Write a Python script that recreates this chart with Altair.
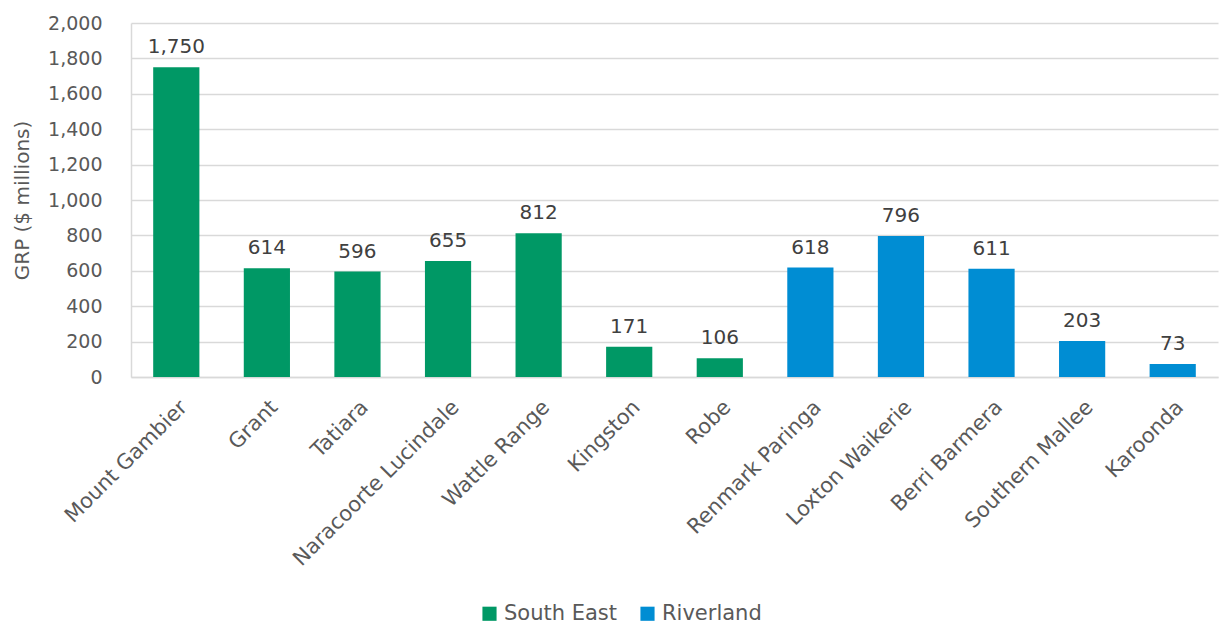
import altair as alt
import pandas as pd

regions = ["Mount Gambier", "Grant", "Tatiara", "Naracoorte Lucindale", "Wattle Range",
           "Kingston", "Robe", "Renmark Paringa", "Loxton Waikerie", "Berri Barmera",
           "Southern Mallee", "Karoonda"]
grp = [1750, 614, 596, 655, 812, 171, 106, 618, 796, 611, 203, 73]
groups = ["South East"] * 7 + ["Riverland"] * 5

df = pd.DataFrame({"region": regions, "grp": grp, "group": groups})

FONT = "DejaVu Sans"
base = alt.Chart(df).encode(
    x=alt.X("region:N", sort=regions, title=None,
            scale=alt.Scale(paddingInner=0.49, paddingOuter=0.245),
            axis=alt.Axis(labelAngle=-45, labelFontSize=21, labelColor="#595959",
                          labelFont=FONT, ticks=False, domainColor="#d9d9d9",
                          domainWidth=1.5, labelPadding=19, grid=False, labelLimit=300,
                          labelOverlap=False)),
    y=alt.Y("grp:Q", title="GRP ($ millions)",
            scale=alt.Scale(domain=[0, 2000], nice=False),
            axis=alt.Axis(values=list(range(0, 2001, 200)), format=",d",
                          labelFontSize=19, labelColor="#595959", labelFont=FONT,
                          titleFontSize=20, titleColor="#595959", titleFont=FONT,
                          titleFontWeight="normal", ticks=False, labelPadding=29,
                          titlePadding=15, domain=True, domainColor="#d9d9d9",
                          domainWidth=1.5, gridColor="#d9d9d9", gridWidth=1.5,
                          labelOverlap=False, tickCount=11)),
)

bars = base.mark_bar().encode(
    color=alt.Color("group:N", scale=alt.Scale(domain=["South East", "Riverland"],
                                               range=["#009865", "#008DD3"]),
                    legend=alt.Legend(title=None, orient="none", legendX=348, legendY=580,
                                      direction="horizontal", symbolType="square",
                                      symbolSize=200, symbolStrokeWidth=0,
                                      labelFontSize=21, labelColor="#595959",
                                      labelFont=FONT, columnPadding=19, labelOffset=4)),
)

labels = base.mark_text(baseline="bottom", dy=-10, fontSize=20, color="#404040",
                        font=FONT).encode(
    text=alt.Text("grp:Q", format=",d"),
)

chart = (bars + labels).properties(
    width=1087, height=354,
    autosize=alt.AutoSizeParams(type="none"),
    padding={"left": 131, "top": 23, "right": 10, "bottom": 248},
    background="white",
).configure_view(stroke=None)

chart.save("out.html", embed_options={"renderer": "svg", "actions": False})
